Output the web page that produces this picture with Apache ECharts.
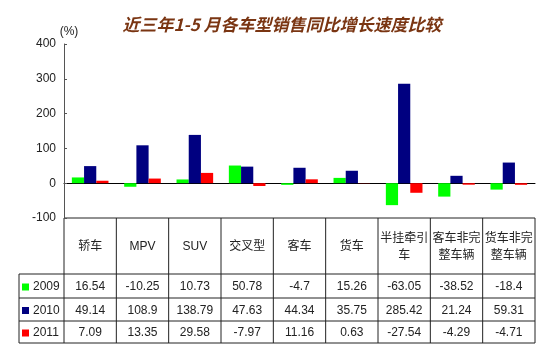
<!DOCTYPE html>
<html>
<head>
<meta charset="utf-8">
<script src="https://cdn.jsdelivr.net/npm/echarts@6/dist/echarts.min.js"></script>
<style>
html, body { margin: 0; padding: 0; background: #fff; }
#chart { width: 550px; height: 352px; }
</style>
</head>
<body>
<div id="chart"></div>
<script>
// 数据
const categories = ['轿车', 'MPV', 'SUV', '交叉型', '客车', '货车', '半挂牵引\n车', '客车非完\n整车辆', '货车非完\n整车辆'];
const years = ['2009', '2010', '2011'];
const data2009 = [16.54, -10.25, 10.73, 50.78, -4.7, 15.26, -63.05, -38.52, -18.4];
const data2010 = [49.14, 108.9, 138.79, 47.63, 44.34, 35.75, 285.42, 21.24, 59.31];
const data2011 = [7.09, 13.35, 29.58, -7.97, 11.16, 0.63, -27.54, -4.29, -4.71];
const yMin = -100, yMax = 400, yStep = 100;

const colors = ['#00ff00', '#000080', '#ff0000'];
const seriesData = [data2009, data2010, data2011];
const textFont = '12px "Liberation Sans", Arial, "Noto Sans CJK SC", sans-serif';

let chart = echarts.init(document.getElementById('chart'));
let option = {
	animation: false,
	title: {
		text: '近三年1-5 月各车型销售同比增长速度比较',
		left: 277,
		textAlign: 'center',
		top: 11,
		textStyle: {
			color: '#7a3512',
			fontSize: 17,
			fontWeight: 'bold',
			fontStyle: 'italic',
			fontFamily: '"Noto Sans CJK SC", sans-serif'
		}
	},
	grid: { left: 64, right: 15, top: 44, bottom: 134 },
	xAxis: {
		type: 'category',
		data: categories,
		axisLine: { onZero: true, lineStyle: { color: '#000', width: 1 } },
		axisTick: { show: false },
		axisLabel: { show: false },
		splitLine: { show: false }
	},
	yAxis: {
		type: 'value',
		min: yMin,
		max: yMax,
		interval: yStep,
		name: '(%)',
		nameLocation: 'end',
		nameGap: 6,
		nameTextStyle: { color: '#222', fontSize: 12, fontFamily: '"Liberation Sans", Arial', align: 'center', padding: [0, 0, 0, 10] },
		axisLine: { show: true, lineStyle: { color: '#555' } },
		axisTick: { show: true, inside: true, length: 3, lineStyle: { color: '#555' } },
		axisLabel: { color: '#222', fontSize: 12, fontFamily: '"Liberation Sans", Arial', margin: 8 },
		splitLine: { show: false }
	},
	series: years.map((y, i) => ({
		name: y,
		type: 'bar',
		data: seriesData[i],
		barGap: '0%',
		barCategoryGap: '30%',
		itemStyle: { color: colors[i] }
	}))
};
chart.setOption(option);

// 表格
function drawTable () {
	const x0 = chart.convertToPixel({ xAxisIndex: 0 }, 0);
	const x1 = chart.convertToPixel({ xAxisIndex: 0 }, 1);
	const w = x1 - x0;
	const left = x0 - w / 2;
	const right = left + w * categories.length;
	const tableLeft = 19;
	const rowY = [chart.convertToPixel({ yAxisIndex: 0 }, yMin), 274, 298, 321, 343];
	const line = (ax, ay, bx, by) => ({
		type: 'line', silent: true,
		shape: { x1: ax, y1: ay, x2: bx, y2: by },
		style: { stroke: '#222', lineWidth: 1 }
	});
	const text = (t, x, y, align) => ({
		type: 'text', silent: true,
		style: { text: t, x: x, y: y, align: align || 'center', verticalAlign: 'middle', font: textFont, fill: '#222', lineHeight: 17 }
	});
	let els = [];
	// 横线
	els.push(line(left, rowY[0], right, rowY[0]));
	for (let r = 1; r < rowY.length; r++) els.push(line(tableLeft, rowY[r], right, rowY[r]));
	// 竖线
	els.push(line(tableLeft, rowY[1], tableLeft, rowY[4]));
	for (let c = 0; c <= categories.length; c++) {
		els.push(line(left + c * w, rowY[0], left + c * w, rowY[4]));
	}
	// 表头
	categories.forEach((c, i) => {
		els.push(text(c, chart.convertToPixel({ xAxisIndex: 0 }, i), (rowY[0] + rowY[1]) / 2 + 1));
	});
	// 数值行
	years.forEach((y, r) => {
		const cy = (rowY[r + 1] + rowY[r + 2]) / 2 + 1;
		els.push({
			type: 'rect', silent: true,
			shape: { x: 22, y: cy - 3.5, width: 7, height: 7 },
			style: { fill: colors[r] }
		});
		els.push(text(y, 33, cy, 'left'));
		seriesData[r].forEach((v, i) => {
			els.push(text(String(v), chart.convertToPixel({ xAxisIndex: 0 }, i), cy));
		});
	});
	chart.setOption({ graphic: { elements: els } });
}
drawTable();
</script>
</body>
</html>
